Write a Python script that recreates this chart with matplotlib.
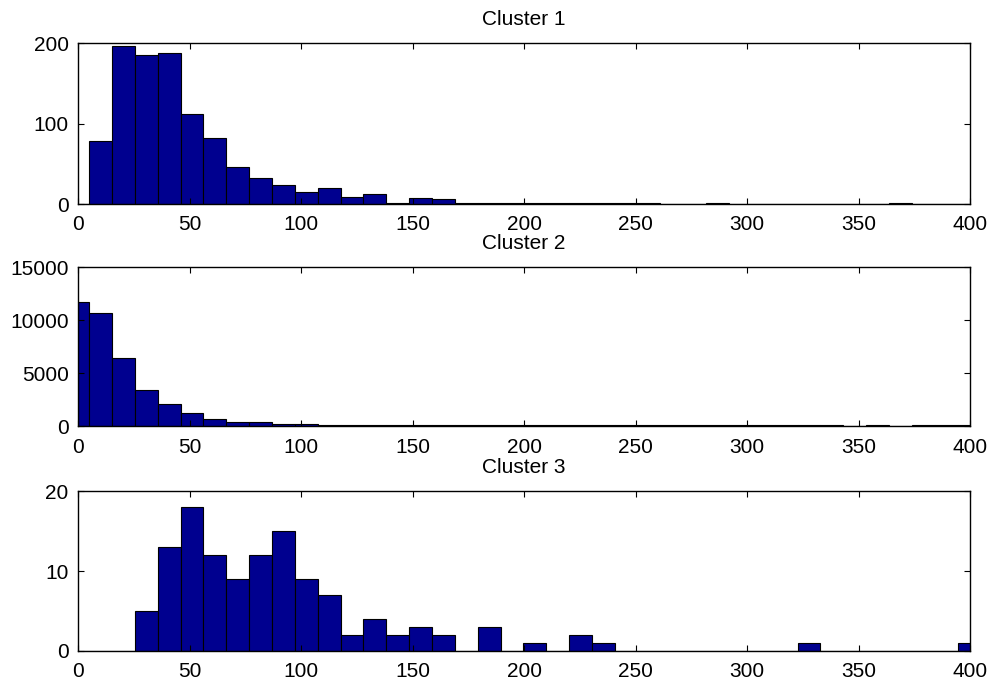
import numpy as np
import matplotlib
matplotlib.use('Agg')
import matplotlib.pyplot as plt

plt.rcParams['font.family'] = ['Liberation Sans', 'DejaVu Sans']

# histogram bins (40 bins, like MATLAB hist)
hist_min = -5.35
hist_max = 404.65
n_bins = 40

titles = ['Cluster 1', 'Cluster 2', 'Cluster 3']

counts_1 = [0, 79, 197, 185, 188, 112, 82, 46, 33, 24,
            15, 20, 9, 13, 2, 8, 6, 2, 1, 2,
            1, 1, 1, 1, 1, 1, 0, 0, 1, 0,
            0, 0, 0, 0, 0, 0, 1, 0, 0, 0]
counts_2 = [11700, 10650, 6470, 3450, 2100, 1300, 750, 380, 440, 220,
            250, 180, 160, 150, 140, 130, 120, 120, 110, 110,
            110, 100, 100, 100, 100, 100, 100, 100, 100, 100,
            100, 100, 100, 100, 0, 110, 0, 100, 100, 100]
counts_3 = [0, 0, 0, 5, 13, 18, 12, 9, 12, 15,
            9, 7, 2, 4, 2, 3, 2, 0, 3, 0,
            1, 0, 2, 1, 0, 0, 0, 0, 0, 0,
            0, 0, 1, 0, 0, 0, 0, 0, 0, 1]

y_ticks = [[0, 100, 200], [0, 5000, 10000, 15000], [0, 10, 20]]
x_ticks = [0, 50, 100, 150, 200, 250, 300, 350, 400]

edges = np.linspace(hist_min, hist_max, n_bins + 1)
centers = (edges[:-1] + edges[1:]) / 2
width = edges[1] - edges[0]

fig = plt.figure(figsize=(9.95, 6.88), dpi=100)

boxes = [[0.0787, 0.7031, 0.8962, 0.2340],
         [0.0787, 0.3801, 0.8962, 0.2314],
         [0.0787, 0.0538, 0.8962, 0.2321]]

for i, counts in enumerate([counts_1, counts_2, counts_3]):
    ax = fig.add_axes(boxes[i])
    ax.bar(centers, counts, width=width, color='#00008F', edgecolor='black', linewidth=0.8)
    ax.set_xlim(0, 400)
    ax.set_ylim(y_ticks[i][0], y_ticks[i][-1])
    ax.set_xticks(x_ticks)
    ax.set_yticks(y_ticks[i])
    ax.tick_params(direction='in', top=True, right=True, length=4, width=0.8,
                   labelsize=15, pad=7)
    ax.tick_params(axis='x', pad=8)
    for s in ax.spines.values():
        s.set_linewidth(1.0)
    ax.set_title(titles[i], fontsize=15, pad=13.5)

fig.savefig('out.png', dpi=100)
